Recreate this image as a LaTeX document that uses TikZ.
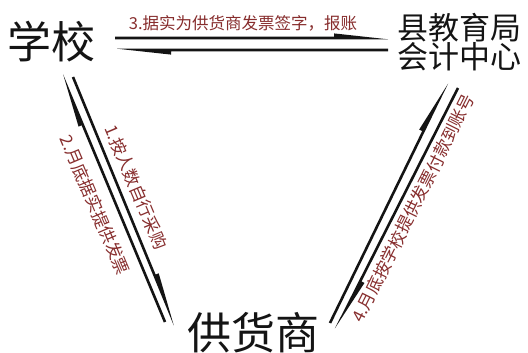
\documentclass[tikz,border=0pt]{standalone}
\usepackage{fontspec}
\newfontfamily\cjk{Noto Sans CJK SC}
\usetikzlibrary{calc}
\definecolor{labred}{RGB}{135,45,45}
\definecolor{ink}{RGB}{20,20,20}
\tikzset{
  bigname/.style={inner sep=0pt, text=ink, font=\cjk\fontsize{44}{44}\selectfont},
  midname/.style={inner sep=0pt, text=ink, align=center, font=\cjk\fontsize{31}{29}\selectfont},
  steplabel/.style={inner sep=0pt, text=labred, font=\cjk\fontsize{16.5}{16.5}\selectfont},
  difflabel/.style={inner sep=0pt, text=labred, font=\cjk\fontsize{17}{17}\selectfont},
  harpfill/.style={fill=ink}
}
% #1 start coordinate, #2 tip coordinate; half barb on the left of travel
\newcommand\harpline[2]{%
  \coordinate (hb) at ($(#2)!54pt!(#1)$);
  \fill[harpfill] ($(#1)!1.3pt!90:(#2)$) -- ($(hb)!1.3pt!90:(#2)$) -- ($(hb)!4.6pt!90:(#2)$)
     -- ($(#2)!1.3pt!90:(#1)$) -- ($(#1)!1.3pt!-90:(#2)$) -- cycle;}
\begin{document}
\begin{tikzpicture}[x=1pt,y=-1pt]
\fill[white] (0,0) rectangle (528,353);
\useasboundingbox (0,0) rectangle (528,353);
% main nodes
\node[bigname] (school) at (52,42) {学校};
\node[midname] (center) at (459,42) {县教育局\\会计中心};
\node[bigname] (supplier) at (253,333) {供货商};
% connector end points
\coordinate (a1s) at (115,38);  \coordinate (a1t) at (388,38);
\coordinate (a2s) at (388,50);  \coordinate (a2t) at (117,50);
\coordinate (b1s) at (73,77);   \coordinate (b1t) at (175,325);
\coordinate (b2s) at (165,322); \coordinate (b2t) at (62,75);
\coordinate (c1s) at (330,323); \coordinate (c1t) at (447,83);
\coordinate (c2s) at (458,88);  \coordinate (c2t) at (336,329);
\harpline{a1s}{a1t}
\harpline{a2s}{a2t}
\harpline{b1s}{b1t}
\harpline{b2s}{b2t}
\harpline{c1s}{c1t}
\harpline{c2s}{c2t}
% labels
\node[steplabel] (l3) at (243,23) {3.据实为供货商发票签字，报账};
\node[difflabel, rotate=-67] (l1) at (136,187) {1.按人数自行采购};
\node[difflabel, rotate=-67] (l2) at (95,205) {2.月底据实提供发票};
\node[difflabel, rotate=63.5] (l4) at (413,208) {4.月底按学校提供发票付款到账号};
\end{tikzpicture}
\end{document}
